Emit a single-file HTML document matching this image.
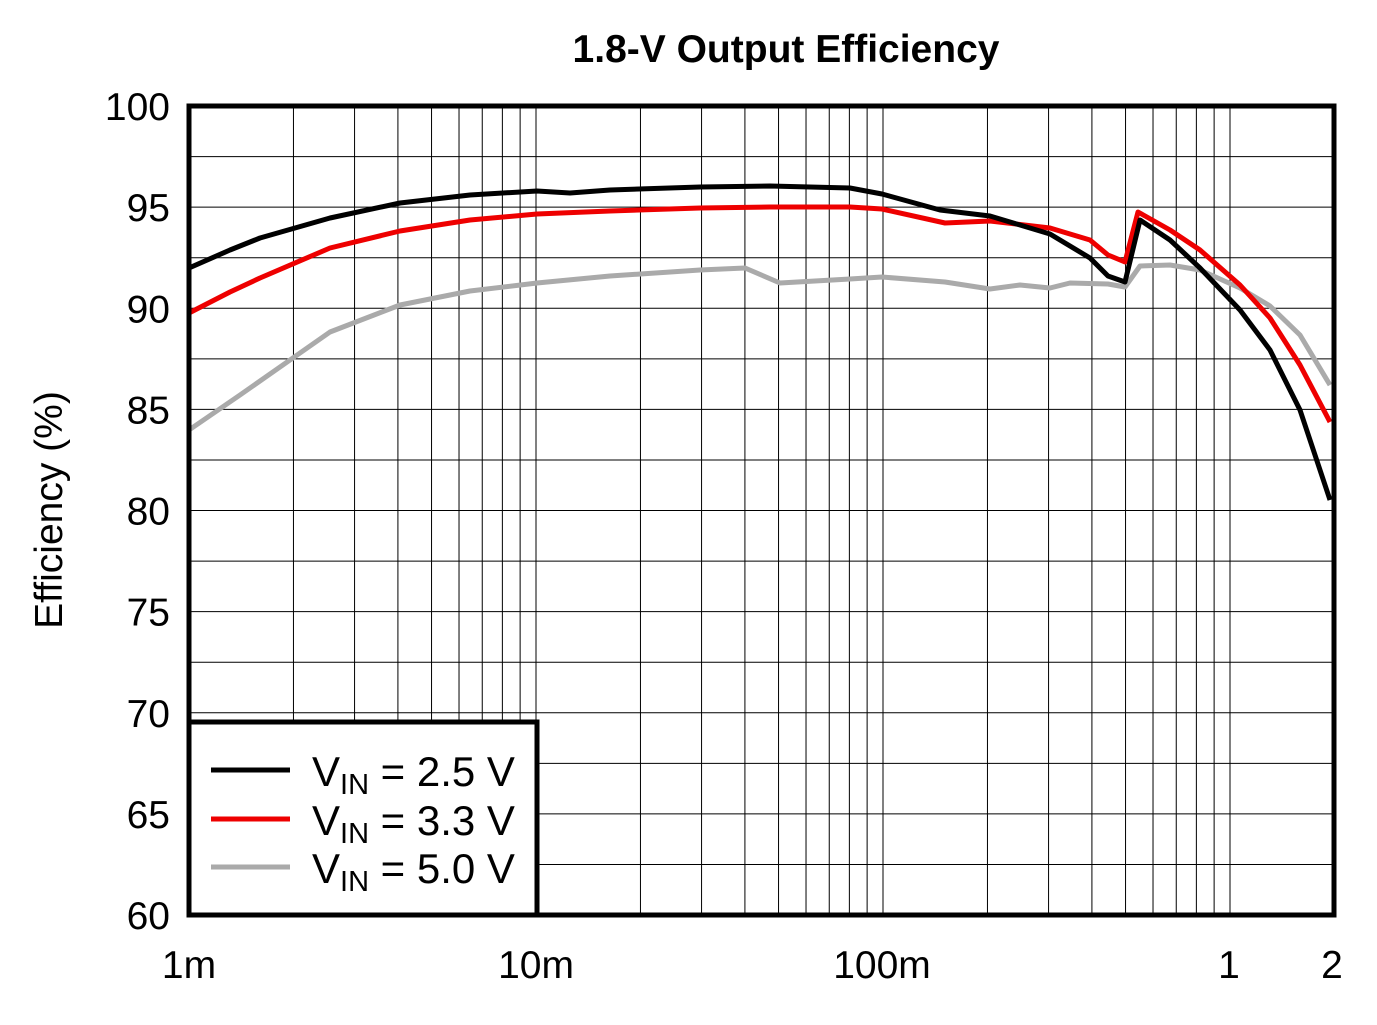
<!DOCTYPE html>
<html><head><meta charset="utf-8"><style>
body{margin:0;background:#fff;}
svg text{font-family:"Liberation Sans",Arial,sans-serif;}
</style></head><body>
<svg width="1377" height="1020" viewBox="0 0 1377 1020" xmlns="http://www.w3.org/2000/svg">
<rect width="1377" height="1020" fill="#fff"/>
<text x="786" y="62" font-size="39" font-weight="bold" text-anchor="middle">1.8-V Output Efficiency</text>
<g id="grid" stroke="#000" stroke-width="1"></g>
<g fill="none" stroke-width="5" stroke-linejoin="round">
<polyline stroke="#aaaaaa" points="189,430 240,395 290,360 330,332 400,305 470,291 537,283 610,276 700,270 745,268 780,283 850,279 882,277 945,282 990,289 1020,285 1050,288 1070,283 1108,284 1125,287 1140,266 1170,265 1200,270 1240,288 1270,306 1300,335 1330,385"/>
<polyline stroke="#ee0000" points="189,313 230,292 260,278 330,248 400,231 470,220 537,214 610,211 700,208 770,207 850,207 882,209 945,223 990,221 1050,228 1090,240 1108,255 1125,262 1138,212 1170,230 1200,250 1240,285 1270,318 1300,365 1330,422"/>
<polyline stroke="#000" points="189,268 230,250 260,238 330,218 400,203 470,195 537,191 570,193 610,190 700,187 770,186 850,188 882,194 940,210 990,216 1050,234 1090,258 1108,276 1125,282 1140,220 1170,240 1200,268 1240,310 1270,350 1300,410 1330,500"/>
</g>
<rect x="189" y="722" width="348" height="193" fill="#fff" stroke="#000" stroke-width="5"/>
<line x1="211" y1="770" x2="290" y2="770" stroke="#000" stroke-width="5"/>
<line x1="211" y1="819" x2="290" y2="819" stroke="#ee0000" stroke-width="5"/>
<line x1="211" y1="867" x2="290" y2="867" stroke="#aaaaaa" stroke-width="5"/>
<g font-size="42">
<text x="312" y="786">V<tspan font-size="29" dy="8">IN</tspan><tspan dy="-8"> = 2.5 V</tspan></text>
<text x="312" y="835">V<tspan font-size="29" dy="8">IN</tspan><tspan dy="-8"> = 3.3 V</tspan></text>
<text x="312" y="883">V<tspan font-size="29" dy="8">IN</tspan><tspan dy="-8"> = 5.0 V</tspan></text>
</g>
<rect x="189" y="106" width="1145" height="809" fill="none" stroke="#000" stroke-width="5"/>
<g id="yl" font-size="39" text-anchor="end"></g>
<g font-size="39" text-anchor="middle">
<text x="189" y="978">1m</text><text x="536" y="978">10m</text><text x="882" y="978">100m</text><text x="1229" y="978">1</text><text x="1332" y="978">2</text>
</g>
<text transform="translate(62,510) rotate(-90)" font-size="39" text-anchor="middle">Efficiency (%)</text>
</svg>
<script>
const g=document.getElementById('grid'),ns="http://www.w3.org/2000/svg";
function ln(x1,y1,x2,y2){const l=document.createElementNS(ns,'line');l.setAttribute('x1',x1);l.setAttribute('y1',y1);l.setAttribute('x2',x2);l.setAttribute('y2',y2);g.appendChild(l);}
for(let i=1;i<16;i++){const y=106+i*809/16;ln(189,y,1334,y);}
for(let d=0;d<4;d++){for(let m=1;m<=9;m++){const x=189+347*(d+Math.log10(m));if(x>1334)break;if(x>189)ln(x,106,x,915);}}
const yl=document.getElementById('yl');
for(let i=0;i<=8;i++){const t=document.createElementNS(ns,'text');t.setAttribute('x',170);t.setAttribute('y',106+i*809/8+14);t.textContent=100-5*i;yl.appendChild(t);}
</script>
</body></html>
